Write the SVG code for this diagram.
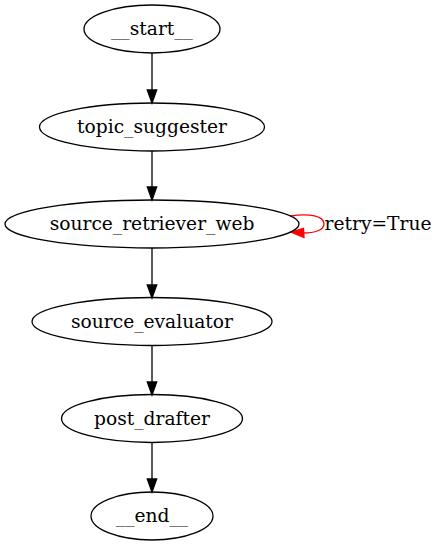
<svg xmlns="http://www.w3.org/2000/svg" width="439" height="545" viewBox="0 0 439 545">
<style>
.n ellipse{fill:none;stroke:#000;stroke-width:1.3}
text{font-family:"DejaVu Serif",serif;font-size:18.67px;text-anchor:middle;fill:#000}
.e{stroke:#000;stroke-width:1.3;fill:none}
.h{fill:#000;stroke:#000;stroke-width:1.3}
</style>
<rect width="439" height="545" fill="#fff"/>
<g id="edges">
<path class="e" d="M152,53 V91"/><polygon class="h" points="147.3,90 152,103 156.7,90"/>
<path class="e" d="M152,151 V188"/><polygon class="h" points="147.3,187 152,200 156.7,187"/>
<path class="e" d="M152,248 V285"/><polygon class="h" points="147.3,285 152,298 156.7,285"/>
<path class="e" d="M152,346 V383"/><polygon class="h" points="147.3,382 152,395 156.7,382"/>
<path class="e" d="M152,443 V480"/><polygon class="h" points="147.3,479 152,492 156.7,479"/>
<g id="retry">
<path d="M290,216 C310,213 324,216 324,224 C324,230 315,233 303,233" fill="none" stroke="#f00" stroke-width="1.3"/>
<polygon points="303.5,228.3 291,232 304,237.5" fill="#f00" stroke="#f00" stroke-width="1.3"/>
<text x="378" y="230">retry=True</text>
</g>
</g>
<g id="start" class="n"><ellipse cx="152" cy="29" rx="68" ry="24"/><text x="152" y="35">__start__</text></g>
<g id="topic_suggester" class="n"><ellipse cx="152" cy="127" rx="112.5" ry="24"/><text x="152" y="133">topic_suggester</text></g>
<g id="source_retriever_web" class="n"><ellipse cx="152" cy="224" rx="147" ry="24"/><text x="152" y="230">source_retriever_web</text></g>
<g id="source_evaluator" class="n"><ellipse cx="152" cy="321.5" rx="120" ry="24"/><text x="152" y="327.5">source_evaluator</text></g>
<g id="post_drafter" class="n"><ellipse cx="152" cy="418.5" rx="90.5" ry="24"/><text x="152" y="424.5">post_drafter</text></g>
<g id="end" class="n"><ellipse cx="152" cy="516" rx="61" ry="24"/><text x="152" y="522">__end__</text></g>
</svg>
